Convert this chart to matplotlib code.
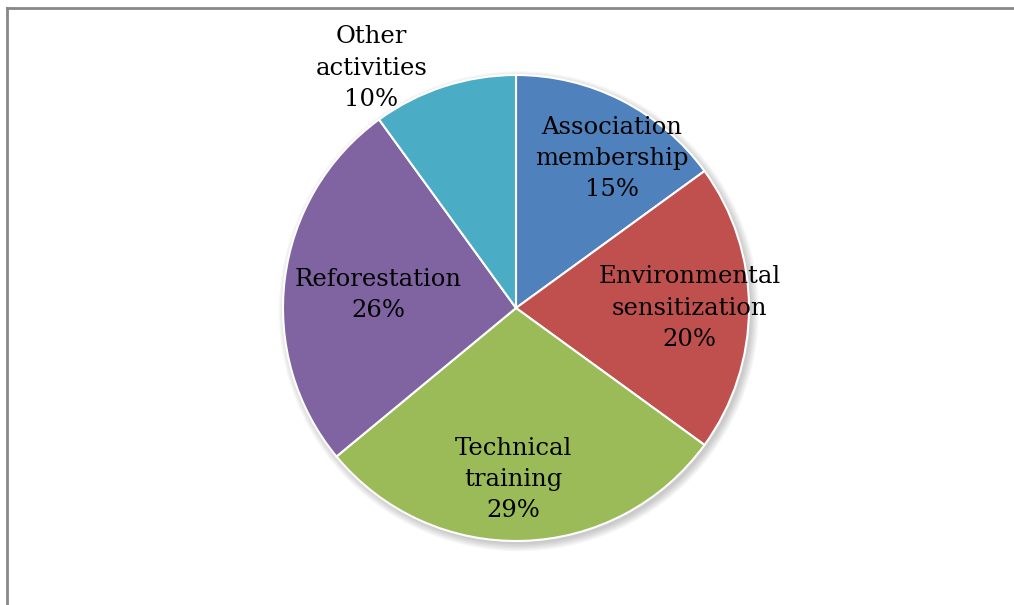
import numpy as np
import matplotlib.pyplot as plt
from matplotlib.patches import Circle

# activity shares (%)
categories = ['Association\nmembership', 'Environmental\nsensitization',
              'Technical\ntraining', 'Reforestation', 'Other\nactivities']
shares = [15, 20, 29, 26, 10]
colors = ['#4F81BD', '#C0504D', '#9BBB59', '#8064A2', '#4BACC6']

# label centres in pie-radius units
label_xy = [(0.41, 0.64), (0.745, 0.0), (-0.01, -0.735), (-0.59, 0.055), (-0.62, 1.03)]

plt.rcParams['font.family'] = ['DejaVu Serif']

fig = plt.figure(figsize=(10.14, 6.05), dpi=100)
ax = fig.add_axes([0, 0, 1, 1])

# soft drop shadow under the pie
for k in range(6):
    ax.add_patch(Circle((0.012, -0.014), 1.0 + 0.006 * k, color='black',
                        alpha=0.035, lw=0, zorder=0))
ax.add_patch(Circle((0, 0), 1.0, color='white', lw=0, zorder=0.5))

wedges, _ = ax.pie(shares, colors=colors, startangle=90, counterclock=False,
                   radius=1.0, center=(0, 0), frame=True,
                   wedgeprops=dict(edgecolor='white', linewidth=1.5))
for w in wedges:
    w.set_zorder(1)
ax.set_aspect('equal')
ax.set_xlim(-516 / 233, (1014 - 516) / 233)
ax.set_ylim(-(605 - 308) / 233, 308 / 233)
ax.axis('off')

for name, val, (x, y) in zip(categories, shares, label_xy):
    ax.text(x, y, f'{name}\n{val}%', ha='center', va='center', fontsize=17.5,
            linespacing=1.45, color='black', zorder=3)

# frame lines on top and left
fig.add_artist(plt.Line2D([6.5 / 1014, 1], [1 - 7.5 / 605] * 2, color='#888888',
                          lw=2, transform=fig.transFigure))
fig.add_artist(plt.Line2D([6.5 / 1014] * 2, [0, 1 - 7.5 / 605], color='#888888',
                          lw=2, transform=fig.transFigure))

fig.savefig('out.png', dpi=100)
